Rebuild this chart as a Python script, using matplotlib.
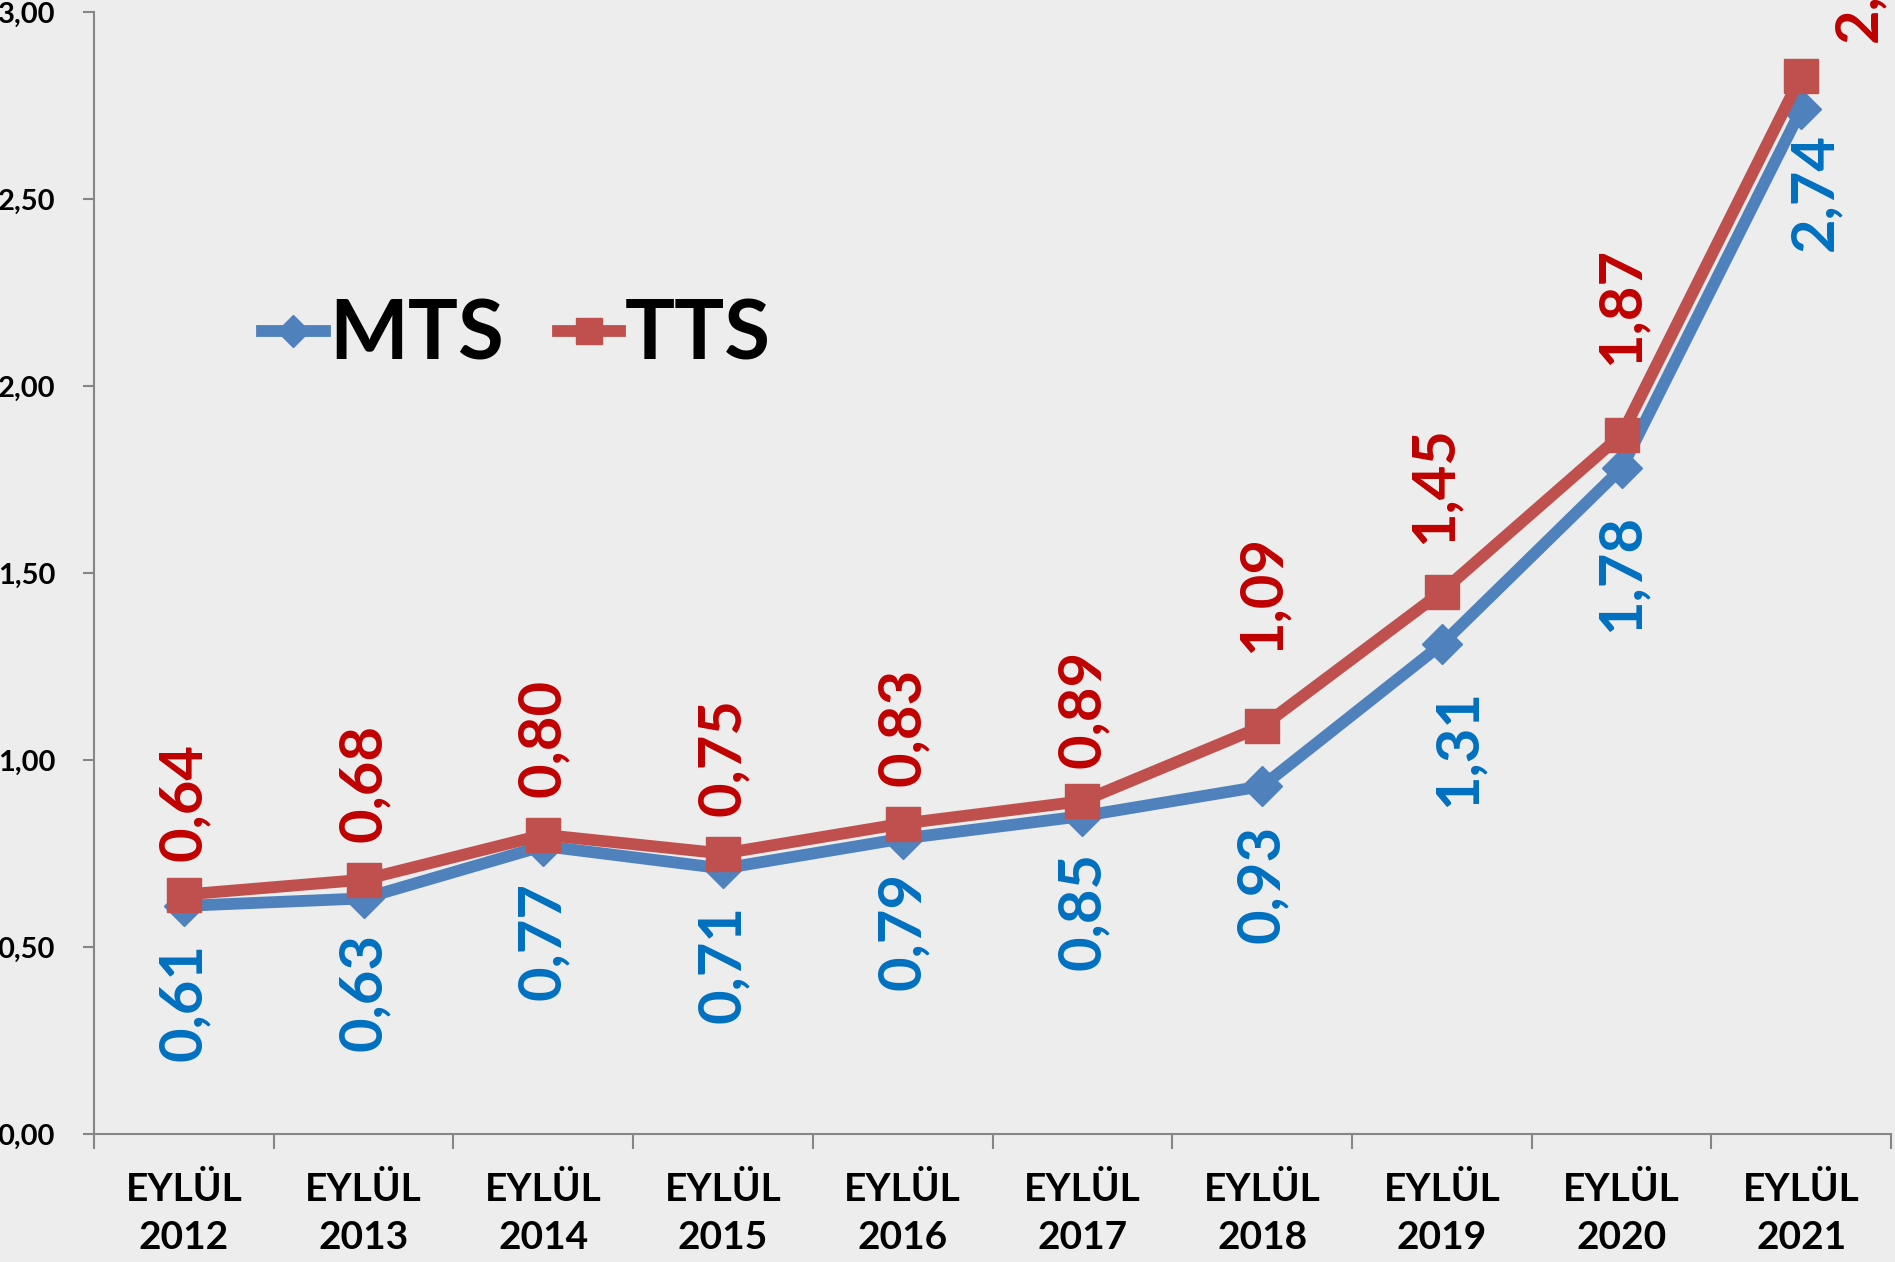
import matplotlib.pyplot as plt

plt.rcParams['font.family'] = ['Lato', 'DejaVu Sans']
plt.rcParams['font.weight'] = 'bold'

years = ['2012', '2013', '2014', '2015', '2016', '2017', '2018', '2019', '2020', '2021']
mts = [0.61, 0.63, 0.77, 0.71, 0.79, 0.85, 0.93, 1.31, 1.78, 2.74]
tts = [0.64, 0.68, 0.80, 0.75, 0.83, 0.89, 1.09, 1.45, 1.87, 2.83]

# label offsets in points (as placed in the original)
mts_dy = [27, 25, 26, 26, 24, 26, 28, 32, 33, 17]
mts_dx = [0, 0, 0, 0, 0, 0, 0, 12, 0, 10]
tts_dy = [24, 27, 27, 27, 27, 24, 53, 34, 50, 24]
tts_dx = [0, 0, 0, 0, 0, 0, 0, -5, 0, 42]

def fmt(v):
    return f"{v:.2f}".replace('.', ',')

fig = plt.figure(figsize=(18.95, 12.62), dpi=100, facecolor='#EDEDED')
ax = fig.add_axes([0.0496, 0.1014, 0.9484, 0.8891])
ax.set_facecolor('none')

x = list(range(len(years)))
ax.plot(x, mts, color='#4F81BD', lw=8.5, marker='D', markersize=20, label='MTS', zorder=3)
ax.plot(x, tts, color='#C0504D', lw=8.5, marker='s', markersize=24, label='TTS', zorder=4)

for i, v in enumerate(mts):
    ax.annotate(fmt(v), (i, v), xytext=(mts_dx[i], -mts_dy[i]), textcoords='offset points',
                rotation=90, ha='center', va='top', fontsize=43, fontweight='bold',
                color='#0070C0', annotation_clip=False)
for i, v in enumerate(tts):
    ax.annotate(fmt(v), (i, v), xytext=(tts_dx[i], tts_dy[i]), textcoords='offset points',
                rotation=90, ha='center', va='bottom', fontsize=43, fontweight='bold',
                color='#C00000', annotation_clip=False)

ax.set_xlim(-0.5, 9.5)
ax.set_ylim(0, 3)
ax.set_yticks([0, 0.5, 1, 1.5, 2, 2.5, 3])
ax.set_yticklabels([fmt(t) for t in [0, 0.5, 1, 1.5, 2, 2.5, 3]], fontsize=21, fontweight='bold')
ax.set_xticks(x)
ax.set_xticklabels(['EYLÜL\n' + y for y in years], fontsize=28, fontweight='bold', linespacing=1.45)
ax.set_xticks([i - 0.5 for i in range(11)], minor=True)
ax.tick_params(axis='x', which='major', length=0, pad=27)
ax.tick_params(axis='x', which='minor', length=11, color='#868686', width=1.5)
ax.tick_params(axis='y', length=8, color='#868686', width=1.5, pad=20)

for s in ['top', 'right']:
    ax.spines[s].set_visible(False)
for s in ['left', 'bottom']:
    ax.spines[s].set_color('#868686')
    ax.spines[s].set_linewidth(1.5)

leg = ax.legend(loc='center', bbox_to_anchor=(0.235, 0.711), ncol=2, frameon=False,
                prop={'size': 60, 'weight': 'bold'}, handlelength=0.75, handletextpad=0.05,
                columnspacing=0.65, markerscale=0.8)

plt.savefig('out.png', dpi=100, facecolor=fig.get_facecolor())
